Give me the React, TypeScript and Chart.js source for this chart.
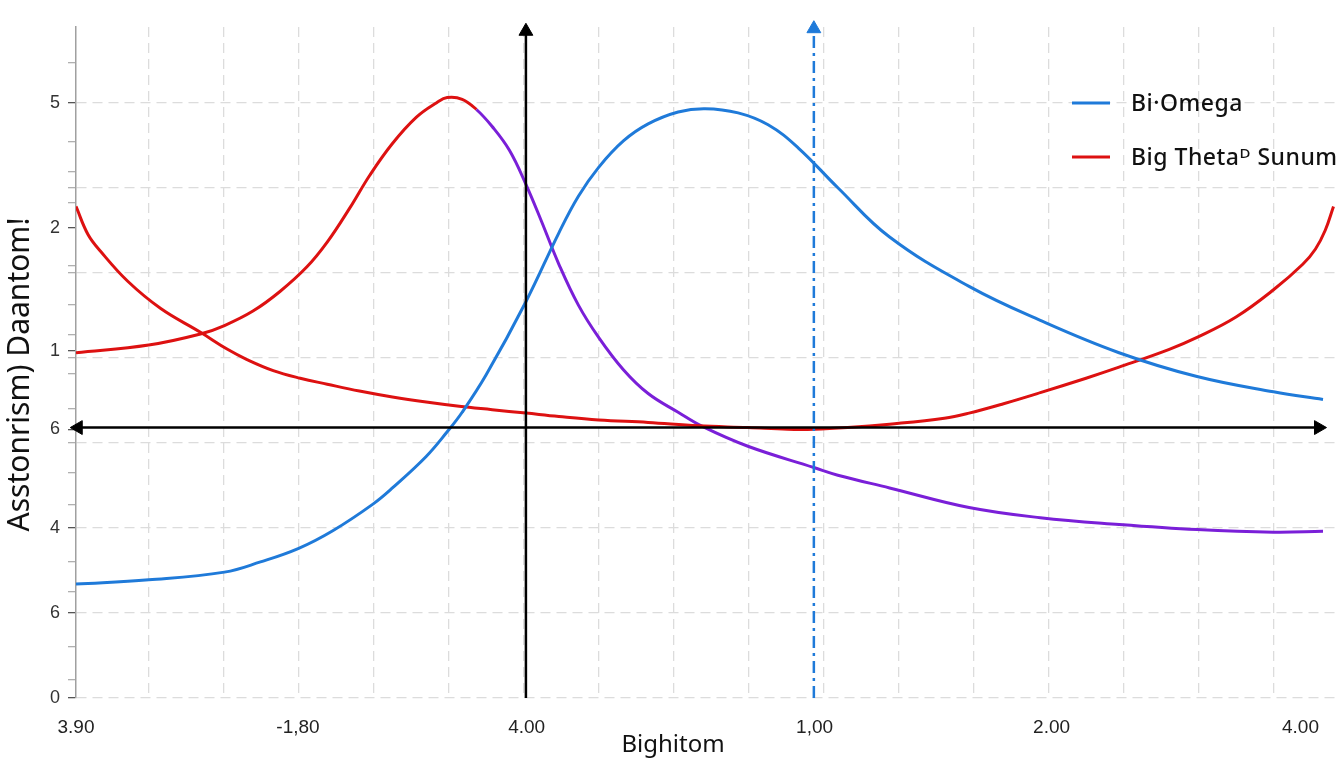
import React, { useEffect, useRef } from "react";
import { Chart, registerables } from "chart.js";

Chart.register(...registerables);

// ---------- data ----------
const SERIES_LABELS = ["Bi·Omega", "Big Thetaᴰ Sunum"];
const X_TITLE = "Bighitom";
const Y_TITLE = "Asstonrism) Daantom!";

const X_MIN = -0.97;
const X_MAX = 15.82;
const Y_MIN = 0;
const Y_MAX = 7.89;

const X_GRID = [0, 1, 2, 3, 4, 5, 6, 7, 8, 9, 10, 11, 12, 13, 14, 15];
const X_TICK_VALUES = [-0.97, 1.99, 5.04, 8.88, 12.04, 15.36];
const X_TICK_LABELS = ["3.90", "-1,80", "4.00", "1,00", "2.00", "4.00"];

const Y_GRID = [0, 1, 2, 3, 4, 5, 6, 7];
const Y_TICK_VALUES = [7, 5.53, 4.08, 3.16, 2, 1, 0];
const Y_TICK_LABELS = ["5", "2", "1", "6", "4", "6", "0"];
const Y_MINOR = [7.47, 6.54, 6.19, 5.82, 5.08, 4.62, 4.27, 3.81, 3.4, 2.65, 2.27, 1.6, 1.25, 0.6, 0.22];

// Bi·Omega (blue)
const OMEGA_X = [-0.97, 0, 1.01, 1.49, 2.0, 2.46, 2.99, 3.25, 3.7, 3.98, 4.18, 4.5, 5.03, 5.47, 5.73, 6.0, 6.33, 6.66, 7.06, 7.42, 7.86, 8.26, 8.66, 9.19, 9.88, 10.94, 11.89, 12.94, 13.98, 15.0, 15.66];
const OMEGA_Y = [1.34, 1.39, 1.48, 1.6, 1.76, 1.97, 2.28, 2.47, 2.84, 3.13, 3.36, 3.8, 4.66, 5.47, 5.9, 6.24, 6.55, 6.75, 6.89, 6.93, 6.88, 6.74, 6.47, 6.0, 5.42, 4.84, 4.44, 4.06, 3.78, 3.6, 3.51];

// Big Theta Sunum (red, U-shaped)
const THETA_X = [-0.97, -0.81, -0.64, -0.28, 0.16, 0.69, 1.05, 1.31, 1.66, 2.02, 2.38, 2.81, 3.25, 3.7, 4.14, 4.58, 5.03, 5.47, 6.0, 6.66, 7.33, 7.99, 8.52, 8.87, 9.32, 9.88, 10.61, 10.94, 11.4, 11.89, 12.5, 12.94, 13.61, 13.98, 14.5, 15.0, 15.39, 15.56, 15.69, 15.8];
const THETA_Y = [5.78, 5.45, 5.25, 4.9, 4.58, 4.3, 4.1, 3.98, 3.85, 3.76, 3.69, 3.61, 3.54, 3.48, 3.43, 3.39, 3.35, 3.31, 3.27, 3.24, 3.2, 3.18, 3.16, 3.16, 3.18, 3.22, 3.29, 3.35, 3.46, 3.59, 3.76, 3.89, 4.1, 4.24, 4.48, 4.8, 5.1, 5.28, 5.5, 5.78];

// peaked curve (red before the peak, purple after it)
const PEAK_X = [-0.97, 0, 0.69, 1.01, 1.39, 1.75, 2.11, 2.38, 2.68, 2.95, 3.25, 3.57, 3.84, 3.98, 4.18, 4.37, 4.58, 4.81, 5.03, 5.24, 5.47, 5.73, 6.0, 6.33, 6.66, 7.06, 7.39, 7.99, 8.87, 9.19, 9.88, 10.94, 11.89, 12.94, 13.98, 15.0, 15.66];
const PEAK_Y = [4.06, 4.15, 4.28, 4.38, 4.55, 4.78, 5.07, 5.36, 5.76, 6.15, 6.52, 6.83, 7.0, 7.06, 7.04, 6.92, 6.72, 6.44, 6.04, 5.6, 5.1, 4.62, 4.24, 3.86, 3.58, 3.36, 3.19, 2.96, 2.71, 2.62, 2.47, 2.24, 2.12, 2.04, 1.98, 1.95, 1.96];
const PEAK_SWITCH_X = 4.37;

// reference lines (axes with arrows)
const V_AXIS_X = 5.03;
const V_AXIS_TOP = 7.84;
const H_AXIS_Y = 3.18;
const H_AXIS_LEFT = -0.94;
const H_AXIS_RIGHT = 15.6;
const MARK_X = 8.87;
const MARK_TOP = 7.87;

// ---------- styles ----------
const BLUE = "#1f7ad9";
const RED = "#dd1111";
const PURPLE = "#7a1fd8";
const GRID = "#dcdcdc";

const near = (list: number[], v: number) => list.some((a) => Math.abs(a - v) < 1e-6);
const uniqSorted = (arr: number[]) =>
  Array.from(new Set(arr.map((v) => Math.round(v * 1e6) / 1e6))).sort((a, b) => a - b);

const zip = (xs: number[], ys: number[]) => xs.map((x, i) => ({ x, y: ys[i] }));

const overlayPlugin = {
  id: "overlay",
  afterDraw(chart: any) {
    const ctx = chart.ctx as CanvasRenderingContext2D;
    const a = chart.chartArea;
    ctx.save();
    // y title
    ctx.save();
    ctx.translate(a.left - 56, (a.top + a.bottom) / 2 + 12);
    ctx.rotate(-Math.PI / 2);
    ctx.font = "30px 'Noto Sans', sans-serif";
    ctx.fillStyle = "#111";
    ctx.textAlign = "center";
    ctx.textBaseline = "middle";
    ctx.fillText(Y_TITLE, 0, 0);
    ctx.restore();
    // x title
    ctx.font = "24px 'Noto Sans', sans-serif";
    ctx.fillStyle = "#111";
    ctx.textAlign = "center";
    ctx.textBaseline = "middle";
    ctx.fillText(X_TITLE, a.left + 597, a.bottom + 47);
    // legend
    const colors = [BLUE, RED];
    const ys = [a.top + 76, a.top + 130];
    ctx.font = "500 23px 'Noto Sans', sans-serif";
    (ctx as any).letterSpacing = "0.5px";
    ctx.textAlign = "left";
    SERIES_LABELS.forEach((lab, i) => {
      ctx.strokeStyle = colors[i];
      ctx.lineWidth = 3;
      ctx.beginPath();
      ctx.moveTo(a.left + 996, ys[i]);
      ctx.lineTo(a.left + 1034, ys[i]);
      ctx.stroke();
      ctx.fillStyle = "#111";
      ctx.fillText(lab, a.left + 1055, ys[i] + 1);
    });
    (ctx as any).letterSpacing = "0px";
    ctx.restore();
  },
};

export default function App() {
  const canvasRef = useRef<HTMLCanvasElement | null>(null);

  useEffect(() => {
    document.body.style.margin = "0";
    const canvas = canvasRef.current;
    if (!canvas) return;

    const xTicks = uniqSorted([...X_GRID, ...X_TICK_VALUES]);
    const yTicks = uniqSorted([...Y_GRID, ...Y_TICK_VALUES, ...Y_MINOR]);

    const arrowCommon = {
      pointStyle: "triangle",
      pointBorderWidth: 1,
      clip: false,
      order: 0,
      tension: 0,
    };

    const curveCommon = {
      borderWidth: 3,
      pointRadius: 0,
      tension: 0.4,
      order: 2,
    };

    const chart = new Chart(canvas, {
      type: "line",
      data: {
        datasets: [
          {
            label: SERIES_LABELS[0],
            data: zip(OMEGA_X, OMEGA_Y),
            borderColor: BLUE,
            ...curveCommon,
          },
          {
            label: SERIES_LABELS[1],
            data: zip(THETA_X, THETA_Y),
            borderColor: RED,
            ...curveCommon,
          },
          {
            label: "peak",
            data: zip(PEAK_X, PEAK_Y),
            borderColor: RED,
            ...curveCommon,
            segment: {
              borderColor: (c: any) => (c.p0.parsed.x >= PEAK_SWITCH_X ? PURPLE : RED),
            },
          },
          {
            label: "v-axis",
            data: [
              { x: V_AXIS_X, y: Y_MIN },
              { x: V_AXIS_X, y: V_AXIS_TOP },
            ],
            borderColor: "#000",
            backgroundColor: "#000",
            borderWidth: 2.5,
            pointRadius: [0, 8],
            pointRotation: [0, 0],
            pointBackgroundColor: "#000",
            pointBorderColor: "#000",
            ...arrowCommon,
          },
          {
            label: "h-axis",
            data: [
              { x: H_AXIS_LEFT, y: H_AXIS_Y },
              { x: H_AXIS_RIGHT, y: H_AXIS_Y },
            ],
            borderColor: "#000",
            backgroundColor: "#000",
            borderWidth: 2.5,
            pointRadius: [8, 8],
            pointRotation: [270, 90],
            pointBackgroundColor: "#000",
            pointBorderColor: "#000",
            ...arrowCommon,
          },
          {
            label: "mark",
            data: [
              { x: MARK_X, y: Y_MIN },
              { x: MARK_X, y: MARK_TOP },
            ],
            borderColor: BLUE,
            backgroundColor: BLUE,
            borderWidth: 2.5,
            borderDash: [12, 5, 3, 5],
            pointRadius: [0, 8],
            pointRotation: [0, 0],
            pointBackgroundColor: BLUE,
            pointBorderColor: BLUE,
            ...arrowCommon,
          },
        ] as any,
      },
      options: {
        animation: false,
        responsive: true,
        maintainAspectRatio: false,
        layout: { padding: { top: 27, right: 0, left: 0, bottom: 0 } },
        plugins: {
          legend: { display: false },
          tooltip: { enabled: false },
        },
        scales: {
          x: {
            type: "linear",
            min: X_MIN,
            max: X_MAX,
            afterBuildTicks: (scale: any) => {
              scale.ticks = xTicks.map((v) => ({ value: v }));
            },
            afterFit: (scale: any) => {
              scale.height = 70;
            },
            border: { display: false, dash: [10, 6] },
            grid: {
              drawTicks: false,
              lineWidth: 1.3,
              color: (c: any) => (c.tick && near(X_GRID, c.tick.value) ? GRID : "rgba(0,0,0,0)"),
            },
            ticks: {
              autoSkip: false,
              maxRotation: 0,
              padding: 18,
              color: "#222",
              font: { family: "'Liberation Sans', Arial, sans-serif", size: 19 },
              callback: (v: any) => {
                const i = X_TICK_VALUES.findIndex((a) => Math.abs(a - Number(v)) < 1e-6);
                return i >= 0 ? X_TICK_LABELS[i] : "";
              },
            },
          },
          y: {
            type: "linear",
            min: Y_MIN,
            max: Y_MAX,
            afterBuildTicks: (scale: any) => {
              scale.ticks = yTicks.map((v) => ({ value: v }));
            },
            afterFit: (scale: any) => {
              scale.width = 76;
            },
            border: { display: true, color: "#a0a0a0", width: 1.5, dash: [10, 6] },
            grid: {
              drawTicks: true,
              tickLength: 8,
              tickWidth: 1.3,
              tickBorderDash: [],
              tickColor: (c: any) => (c.tick && near(Y_TICK_VALUES, c.tick.value) ? "#555" : "#b0b0b0"),
              lineWidth: 1.3,
              color: (c: any) => (c.tick && near(Y_GRID, c.tick.value) ? GRID : "rgba(0,0,0,0)"),
            },
            ticks: {
              autoSkip: false,
              padding: 8,
              color: "#333",
              font: { family: "'Liberation Sans', Arial, sans-serif", size: 18 },
              callback: (v: any) => {
                const i = Y_TICK_VALUES.findIndex((a) => Math.abs(a - Number(v)) < 1e-6);
                return i >= 0 ? Y_TICK_LABELS[i] : "";
              },
            },
          },
        },
      } as any,
      plugins: [overlayPlugin as any],
    });

    return () => chart.destroy();
  }, []);

  return (
    <div style={{ width: 1344, height: 768, position: "relative", background: "#fff" }}>
      <canvas ref={canvasRef} />
    </div>
  );
}
